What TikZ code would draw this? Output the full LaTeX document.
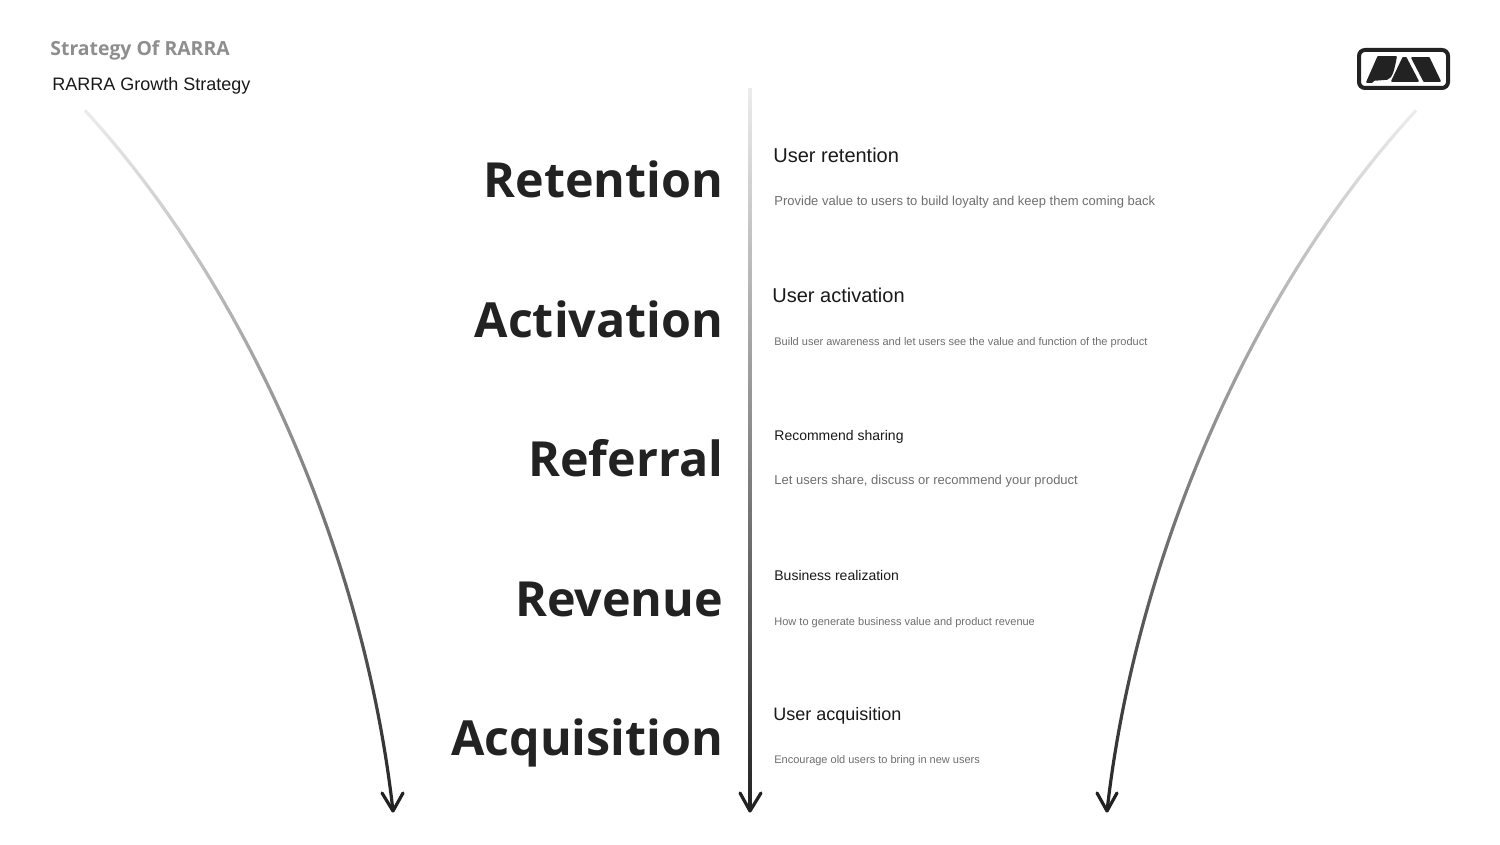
\documentclass[tikz,border=0pt]{standalone}
\usepackage{fontspec}
\setmainfont{Liberation Sans}
\newfontfamily\headfont{Open Sans}
\usetikzlibrary{fadings}
\definecolor{ink}{HTML}{222222}
\definecolor{subgray}{HTML}{6E6E6E}
\definecolor{titlegray}{HTML}{8E8E8E}
\tikzfading[name=fadedown, top color=transparent!92, bottom color=transparent!0]
\newcommand{\fsz}[1]{\fontsize{#1}{#1}\selectfont}
\tikzset{
  x=0.5pt,y=-0.5pt,
  stage/.style={anchor=base east,inner sep=0,text=ink,font=\headfont\bfseries\fsz{24.2}},
  sublabel/.style={anchor=base west,inner sep=0,text=black!90},
  desc/.style={anchor=base west,inner sep=0,text=subgray},
  stem/.style={draw=ink,line width=1.6pt,path fading=fadedown},
  tip/.style={draw=ink,line width=1.6pt,line cap=round,line join=round},
  logopart/.style={fill=ink,draw=ink,line width=0.8pt,line join=round}
}
\begin{document}
\begin{tikzpicture}
\useasboundingbox (0,0) rectangle (1500,845);
\fill[white] (0,0) rectangle (1500,845);

\node[anchor=base west,inner sep=0,text=titlegray,font=\headfont\bfseries\fsz{9.7}] (title) at (50,55.5) {Strategy Of RARRA};
\node[anchor=base west,inner sep=0,text=black!90,font=\fsz{9}] (subtitle) at (52,91) {RARRA Growth Strategy};

% stages
\node[stage] (retention) at (723.5,197.5) {Retention};
\node[stage] (activation) at (723.5,337.5) {Activation};
\node[stage] (referral) at (723.5,476.5) {Referral};
\node[stage] (revenue) at (723.5,616.5) {Revenue};
\node[stage] (acquisition) at (723.5,755.5) {Acquisition};

% right labels
\node[sublabel,font=\fsz{10}] (l1) at (773,163) {User retention};
\node[desc,font=\fsz{6.5}] (d1) at (774,206) {Provide value to users to build loyalty and keep them coming back};
\node[sublabel,font=\fsz{10}] (l2) at (772,303) {User activation};
\node[desc,font=\fsz{5.5}] (d2) at (774,346) {Build user awareness and let users see the value and function of the product};
\node[sublabel,font=\fsz{7}] (l3) at (774,440) {Recommend sharing};
\node[desc,font=\fsz{6.5}] (d3) at (774,484) {Let users share, discuss or recommend your product};
\node[sublabel,font=\fsz{7}] (l4) at (774,580) {Business realization};
\node[desc,font=\fsz{5.5}] (d4) at (774,625) {How to generate business value and product revenue};
\node[sublabel,font=\fsz{9}] (l5) at (773,720) {User acquisition};
\node[desc,font=\fsz{5.5}] (d5) at (774,763) {Encourage old users to bring in new users};

% arrows
\coordinate (ls) at (85,110); \coordinate (le) at (393,811);
\coordinate (cs) at (750,88); \coordinate (ce) at (750,811);
\coordinate (rs) at (1416,110); \coordinate (re) at (1107,811);
\draw[stem] (ls) .. controls (250,290) and (365,560) .. (le);
\draw[stem] (cs) -- (ce);
\draw[stem] (rs) .. controls (1250,290) and (1135,560) .. (re);
\foreach \t/\a/\b in {le/382/403,ce/740/761,re/1097/1117}{
  \coordinate (a1) at (\a,793); \coordinate (a2) at (\b,793);
  \draw[tip] (a1) -- (\t) -- (a2);
}

% logo
\draw[draw=ink,line width=2pt,rounded corners=3pt,fill=white] (1359,50) rectangle (1448,88);
\fill[logopart] (1378,57) -- (1396,57) .. controls (1394,68) and (1392,78) .. (1387,79) -- (1374,80) -- (1372,82) -- (1367,82) -- cycle;
\fill[logopart] (1403,58) -- (1406,58) -- (1418,81) -- (1392,81) -- cycle;
\fill[logopart] (1412,58) -- (1429,58) -- (1440,81) -- (1424,81) -- cycle;
\end{tikzpicture}
\end{document}
